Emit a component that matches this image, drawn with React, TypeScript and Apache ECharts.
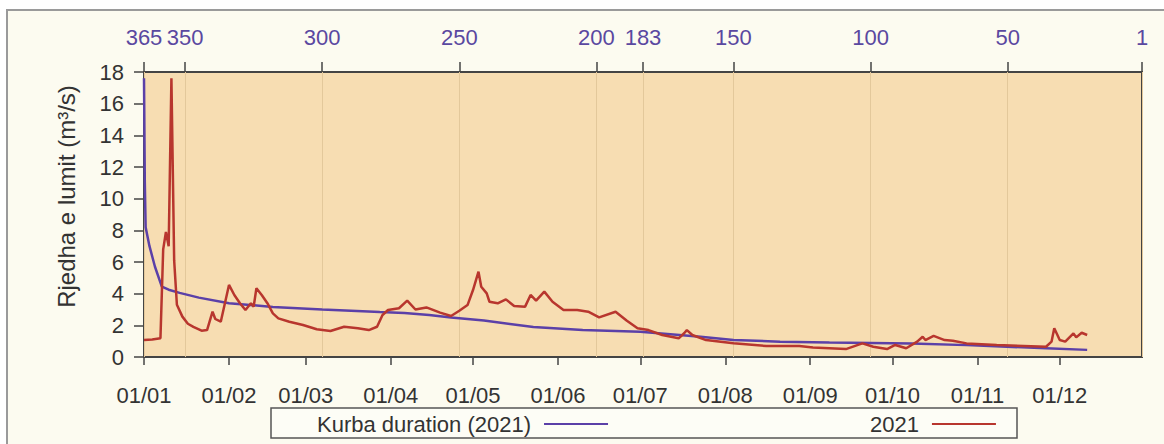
import React, { useEffect, useRef } from "react";
import * as echarts from "echarts";

// Bottom axis: day-of-year of each month start (2021) and its label
const monthStartDays = [0, 31, 59, 90, 120, 151, 181, 212, 243, 273, 304, 334];
const monthLabels = ["01/01", "01/02", "01/03", "01/04", "01/05", "01/06", "01/07", "01/08", "01/09", "01/10", "01/11", "01/12"];

// Top axis: duration (days) ticks
const durationTicks = [365, 350, 300, 250, 200, 183, 150, 100, 50, 1];

// Duration curve (2021)
const durationDays = [0, 0.3, 0.6, 2, 4, 6.5, 9, 13, 20, 31, 47, 65, 86, 95, 104, 112, 124, 142, 160, 181, 203, 215, 232, 250, 280, 300, 329, 344];
const durationFlow = [17.6, 11, 8.2, 7.0, 5.7, 4.45, 4.25, 4.05, 3.75, 3.4, 3.16, 3.0, 2.84, 2.78, 2.65, 2.5, 2.3, 1.9, 1.7, 1.6, 1.28, 1.07, 0.97, 0.92, 0.86, 0.75, 0.55, 0.45];

// Daily flow 2021
const dailyDays = [0, 3, 6, 7, 8, 9, 10, 11, 12, 14, 16, 18, 21, 23, 25, 26, 28, 29, 31, 33, 35, 37, 39, 40, 41, 43, 45, 47, 49, 53, 58, 63, 68, 73, 78, 82, 85, 87, 89, 93, 96, 99, 103, 108, 112, 115, 118, 120, 122, 123, 125, 126, 129, 132, 135, 139, 141, 143, 146, 149, 153, 158, 162, 166, 172, 176, 180, 184, 189, 195, 197, 198, 200, 205, 215, 227, 239, 244, 256, 262, 266, 271, 274, 278, 282, 284, 285, 288, 292, 295, 300, 311, 329, 331, 332, 334, 336, 339, 340, 342, 344];
const dailyFlow = [1.07, 1.1, 1.18, 6.8, 7.9, 7.0, 17.6, 6.1, 3.3, 2.55, 2.1, 1.9, 1.66, 1.7, 2.86, 2.4, 2.23, 3.0, 4.55, 3.9, 3.4, 2.97, 3.4, 3.18, 4.34, 3.9, 3.4, 2.76, 2.44, 2.23, 2.02, 1.75, 1.64, 1.91, 1.81, 1.7, 1.91, 2.65, 2.97, 3.08, 3.56, 3.0, 3.13, 2.8, 2.59, 2.92, 3.28, 4.23, 5.39, 4.44, 4.02, 3.49, 3.39, 3.64, 3.22, 3.18, 3.92, 3.56, 4.13, 3.49, 2.97, 2.97, 2.86, 2.5, 2.86, 2.3, 1.81, 1.7, 1.39, 1.18, 1.5, 1.7, 1.39, 1.07, 0.87, 0.69, 0.69, 0.6, 0.5, 0.86, 0.65, 0.5, 0.76, 0.55, 0.97, 1.28, 1.07, 1.33, 1.07, 1.03, 0.86, 0.76, 0.65, 0.97, 1.81, 1.07, 0.97, 1.49, 1.24, 1.53, 1.39];

const FONT = "'Liberation Sans', Arial, sans-serif";
const PURPLE = "#5b40a8";
const RED = "#b8362e";

export default function App() {
  const ref = useRef<HTMLDivElement>(null);

  useEffect(() => {
    document.body.style.margin = "0";
    const chart = echarts.init(ref.current!, null, { renderer: "svg" });
    const durationData = durationDays.map((d, i) => [d, durationFlow[i]]);
    const dailyData = dailyDays.map((d, i) => [d, dailyFlow[i]]);

    const legendCommon = {
      top: 413,
      padding: 0,
      align: "right",
      icon: "rect",
      itemWidth: 64,
      itemHeight: 2,
      textStyle: { fontSize: 22, color: "#333", padding: [0, 8, 0, 0] },
    };

    chart.setOption({
      animation: false,
      textStyle: { fontFamily: FONT },
      grid: {
        left: 144,
        top: 72,
        right: 22,
        bottom: 87,
        show: true,
        backgroundColor: "#f7ddb2",
        borderColor: "#444",
        borderWidth: 2,
      },
      xAxis: [
        {
          type: "value",
          position: "bottom",
          min: 0,
          max: 364,
          axisLine: { show: false },
          axisTick: { show: true, length: 8, customValues: monthStartDays, lineStyle: { color: "#444", width: 1.5 } },
          axisLabel: {
            customValues: monthStartDays,
            fontSize: 22,
            color: "#333",
            margin: 27,
            formatter: (v: number) => {
              const i = monthStartDays.indexOf(Math.round(v));
              return i >= 0 ? monthLabels[i] : "";
            },
          },
          splitLine: { show: false },
        },
        {
          type: "value",
          position: "top",
          min: 1,
          max: 365,
          inverse: true,
          axisLine: { show: false },
          axisTick: { show: true, length: 10, customValues: durationTicks, lineStyle: { color: "#444", width: 1.5 } },
          axisLabel: { customValues: durationTicks, fontSize: 22, color: "#5a48a0", margin: 24 },
          splitLine: { show: true, lineStyle: { color: "#e3c89b", width: 1 } },
        },
      ],
      yAxis: {
        type: "value",
        min: 0,
        max: 18,
        interval: 2,
        name: "Rjedha e lumit (m³/s)",
        nameLocation: "middle",
        nameGap: 66,
        nameTextStyle: { fontSize: 24, color: "#333", padding: [0, 0, 0, 36] },
        axisLine: { show: false },
        axisTick: { show: true, length: 10, lineStyle: { color: "#444", width: 1.5 } },
        axisLabel: { fontSize: 22, color: "#333", margin: 20 },
        splitLine: { show: false },
      },
      legend: [
        { ...legendCommon, data: ["Kurba duration (2021)"], left: 317 },
        { ...legendCommon, data: ["2021"], left: 870 },
      ],
      graphic: [
        {
          type: "rect",
          shape: { x: 271, y: 408, width: 746, height: 30 },
          style: { fill: "#fdfdf6", stroke: "#555", lineWidth: 1.5 },
          z: 1,
        },
      ],
      series: [
        {
          name: "Kurba duration (2021)",
          type: "line",
          xAxisIndex: 0,
          data: durationData,
          symbol: "none",
          lineStyle: { color: PURPLE, width: 2.5 },
          itemStyle: { color: PURPLE },
          z: 3,
        },
        {
          name: "2021",
          type: "line",
          xAxisIndex: 0,
          data: dailyData,
          symbol: "none",
          lineStyle: { color: RED, width: 2.5 },
          itemStyle: { color: RED },
          z: 4,
        },
      ],
    });

    return () => chart.dispose();
  }, []);

  return (
    <div style={{ position: "fixed", left: 0, top: 0, width: 1164, height: 444, background: "#fff", overflow: "hidden" }}>
      <div
        style={{
          position: "absolute",
          left: 6,
          top: 9,
          width: 1200,
          height: 480,
          border: "2px solid #9a9a9a",
          background: "#fcfbf0",
        }}
      />
      <div ref={ref} style={{ position: "absolute", left: 0, top: 0, width: 1164, height: 444 }} />
    </div>
  );
}
